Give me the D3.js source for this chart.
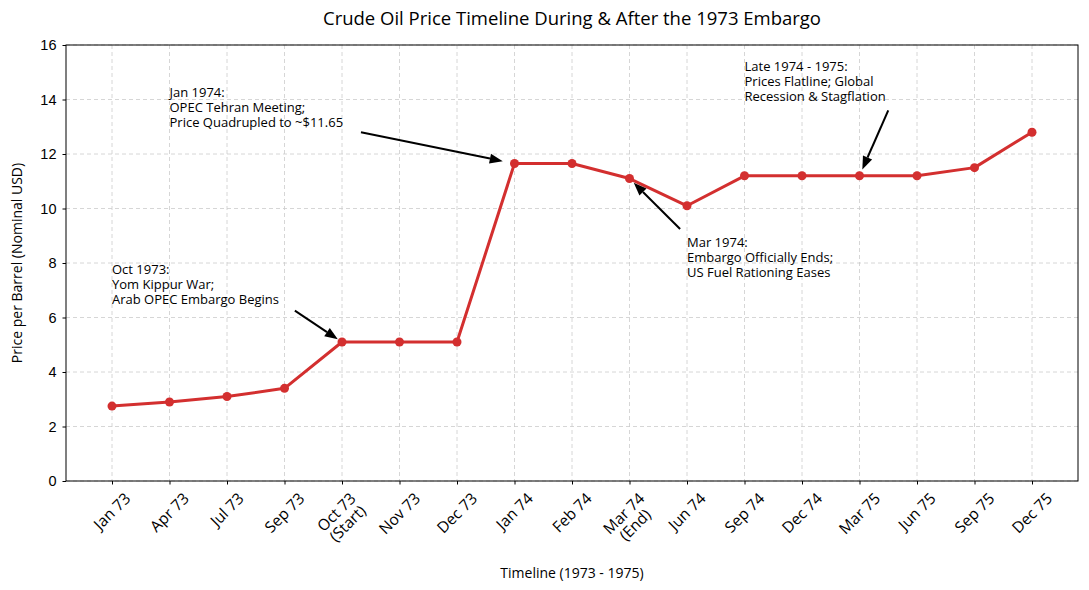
<!DOCTYPE html>
<html>
<head>
<meta charset="utf-8">
<script src="https://cdn.jsdelivr.net/npm/d3@7"></script>
<style>
  body { margin: 0; background: #fff; }
  svg { font-family: "Open Sans", Roboto, sans-serif; }
  .grid line { stroke: #cccccc; stroke-dasharray: 4,3; stroke-width: 0.8; }
</style>
</head>
<body>
<div id="chart"></div>
<script>
// chart values
const periods = ["Jan 73", "Apr 73", "Jul 73", "Sep 73", "Oct 73\n(Start)", "Nov 73", "Dec 73",
    "Jan 74", "Feb 74", "Mar 74\n(End)", "Jun 74", "Sep 74", "Dec 74", "Mar 75", "Jun 75", "Sep 75", "Dec 75"];
const prices = [2.75, 2.9, 3.1, 3.4, 5.1, 5.1, 5.1, 11.65, 11.65, 11.1, 10.1, 11.2, 11.2, 11.2, 11.2, 11.5, 12.8];
const yTicks = [0, 2, 4, 6, 8, 10, 12, 14, 16];

// annotations: text position, arrow tail, arrow target (index, value)
const noteTexts = [
    ["Oct 1973:", "Yom Kippur War;", "Arab OPEC Embargo Begins"],
    ["Jan 1974:", "OPEC Tehran Meeting;", "Price Quadrupled to ~$11.65"],
    ["Mar 1974:", "Embargo Officially Ends;", "US Fuel Rationing Eases"],
    ["Late 1974 - 1975:", "Prices Flatline; Global", "Recession & Stagflation"]
];
const noteTextAt = [[0, 7.6], [1, 14.1], [10, 8.6], [11, 15.05]];
const noteTail = [[3.18, 6.25], [4.33, 12.8], [9.88, 9.25], [13.5, 13.6]];
const noteTarget = [[4, 5.1], [7, 11.65], [9, 11.1], [13, 11.2]];

const WIDTH = 1089;
const HEIGHT = 590;
const margin = { left: 66, right: 11, top: 45, bottom: 109 };
const innerW = WIDTH - margin.left - margin.right;
const innerH = HEIGHT - margin.top - margin.bottom;
const RED = "#d32f2f";

const svg = d3.select("#chart").append("svg")
    .attr("width", WIDTH)
    .attr("height", HEIGHT);

const g = svg.append("g")
    .attr("transform", "translate(" + margin.left + "," + margin.top + ")");

// categorical x with matplotlib-like 5% margins
const xScale = d3.scaleLinear()
    .domain([-0.8, periods.length - 1 + 0.8])
    .range([0, innerW]);
const yScale = d3.scaleLinear()
    .domain([0, 16])
    .range([innerH, 0]);

// grid
g.append("g").classed("grid", true)
    .selectAll("line.v")
    .data(periods)
    .enter().append("line")
    .attr("x1", (d, i) => xScale(i)).attr("x2", (d, i) => xScale(i))
    .attr("y1", 0).attr("y2", innerH);
g.append("g").classed("grid", true)
    .selectAll("line.h")
    .data(yTicks)
    .enter().append("line")
    .attr("x1", 0).attr("x2", innerW)
    .attr("y1", d => yScale(d)).attr("y2", d => yScale(d));

// y axis
const yAxis = g.append("g")
    .call(d3.axisLeft(yScale).tickValues(yTicks).tickSize(3.5).tickPadding(6));
yAxis.select(".domain").remove();
yAxis.selectAll("text").style("font-size", "14.5px").attr("fill", "#000");
yAxis.selectAll("line").attr("stroke", "#000");

// x axis ticks
const xAxis = g.append("g")
    .attr("transform", "translate(0," + innerH + ")")
    .call(d3.axisBottom(xScale).tickValues(d3.range(periods.length)).tickSize(3.5).tickFormat(""));
xAxis.select(".domain").remove();
xAxis.selectAll("line").attr("stroke", "#000");

// rotated tick labels, bbox centred under tick
const LINE_H = 16;
periods.forEach((label, i) => {
    const lines = label.split("\n");
    const t = g.append("text")
        .style("font-size", "15.5px")
        .attr("text-anchor", "middle");
    lines.forEach((ln, k) => {
        t.append("tspan")
            .attr("x", 0)
            .attr("y", (k - (lines.length - 1) / 2) * LINE_H)
            .attr("dy", "0.35em")
            .text(ln);
    });
    let w = 0;
    t.selectAll("tspan").each(function () { w = Math.max(w, this.getComputedTextLength()); });
    const h = lines.length * LINE_H;
    const half = (w + h) * Math.SQRT1_2 / 2;
    t.attr("transform", "translate(" + xScale(i) + "," + (innerH + 9 + half) + ")rotate(-45)");
});

// frame
g.append("rect")
    .attr("width", innerW).attr("height", innerH)
    .attr("fill", "none").attr("stroke", "#000").attr("stroke-width", 1);

// line + markers
const line = d3.line()
    .x((d, i) => xScale(i))
    .y(d => yScale(d));
g.append("path")
    .datum(prices)
    .attr("d", line)
    .attr("fill", "none")
    .attr("stroke", RED)
    .attr("stroke-width", 3)
    .attr("stroke-linejoin", "round");
g.append("g")
    .selectAll("circle")
    .data(prices)
    .enter().append("circle")
    .attr("cx", (d, i) => xScale(i))
    .attr("cy", d => yScale(d))
    .attr("r", 4.5)
    .attr("fill", RED);

// annotations
const shrink = [5, 12, 6, 7];
noteTexts.forEach((lines, n) => {
    const t = g.append("text")
        .style("font-size", "13px")
        .attr("fill", "#000");
    lines.forEach((ln, k) => {
        t.append("tspan")
            .attr("x", xScale(noteTextAt[n][0]))
            .attr("y", yScale(noteTextAt[n][1]) + k * 15)
            .text(ln);
    });

    const x1 = xScale(noteTail[n][0]), y1 = yScale(noteTail[n][1]);
    let x2 = xScale(noteTarget[n][0]), y2 = yScale(noteTarget[n][1]);
    const len = Math.hypot(x2 - x1, y2 - y1);
    const ux = (x2 - x1) / len, uy = (y2 - y1) / len;
    x2 -= ux * shrink[n];
    y2 -= uy * shrink[n];
    const headL = 13, headW = 5;
    const bx = x2 - ux * headL, by = y2 - uy * headL;
    g.append("line")
        .attr("x1", x1).attr("y1", y1)
        .attr("x2", bx).attr("y2", by)
        .attr("stroke", "#000").attr("stroke-width", 2);
    g.append("path")
        .attr("d", "M" + x2 + "," + y2 +
            "L" + (bx - uy * headW) + "," + (by + ux * headW) +
            "L" + (bx + uy * headW) + "," + (by - ux * headW) + "Z")
        .attr("fill", "#000");
});

// title and axis labels
svg.append("text")
    .attr("x", margin.left + innerW / 2)
    .attr("y", 25)
    .attr("text-anchor", "middle")
    .style("font-size", "18.5px")
    .text("Crude Oil Price Timeline During & After the 1973 Embargo");

svg.append("text")
    .attr("x", margin.left + innerW / 2)
    .attr("y", 578)
    .attr("text-anchor", "middle")
    .style("font-size", "14px")
    .text("Timeline (1973 - 1975)");

svg.append("text")
    .attr("transform", "translate(22," + (margin.top + innerH / 2) + ")rotate(-90)")
    .attr("text-anchor", "middle")
    .style("font-size", "14px")
    .text("Price per Barrel (Nominal USD)");
</script>
</body>
</html>
